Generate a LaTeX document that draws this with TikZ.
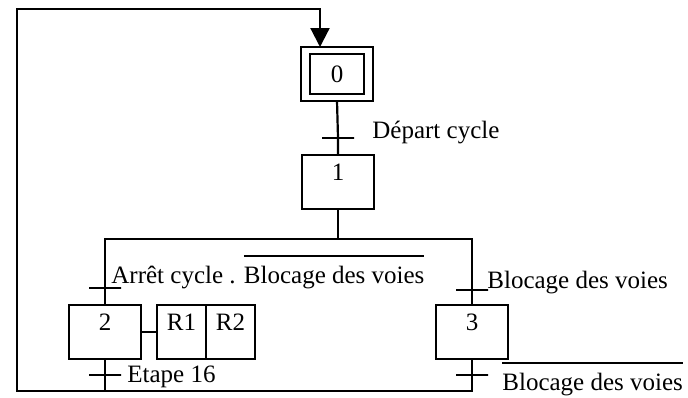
\documentclass[tikz,border=0pt]{standalone}
\usepackage{fontspec}
\setmainfont{Liberation Serif}
\usetikzlibrary{arrows.meta,positioning,calc}
\newsavebox{\barbox}
\newcommand{\nonbar}[1]{\sbox{\barbox}{#1}\rlap{\raisebox{13pt}{\rule{\wd\barbox}{1pt}}}\usebox{\barbox}}
\tikzset{
  gr/.style={draw, line width=1.1pt, outer sep=0pt, font=\fontsize{12.5}{15}\selectfont, inner sep=0pt},
  stepbox/.style={gr, minimum width=36pt, minimum height=27pt,
                  text height=8.5pt, text depth=10pt},
  initin/.style={gr, minimum width=27pt, minimum height=20pt},
  actbox/.style={stepbox, minimum width=24.5pt},
  trans/.style={draw, line width=1.3pt, minimum width=16pt, minimum height=0pt, inner sep=0pt, outer sep=0pt},
  lbl/.style={font=\fontsize{12.5}{15}\selectfont, inner sep=0pt, anchor=base west},
  ln/.style={line width=1.1pt},
  ar/.style={ln, -{Triangle[length=9.5pt, width=9.5pt]}},
}
\begin{document}
\begin{tikzpicture}[x=0.5pt, y=-0.5pt]
  \useasboundingbox (0,0) rectangle (688,397);
  % steps
  \node[stepbox] (s0) at (337,74) {};
  \node[initin] (s0in) at (s0.center) {0};
  \node[stepbox] (s1) at (338,182) {1};
  \node[stepbox] (s2) at (105,332) {2};
  \node[actbox, right=8pt of s2] (r1) {R1};
  \node[actbox, right=0pt of r1] (r2) {R2};
  \node[stepbox] (s3) at (472,332) {3};
  % transitions
  \node[trans] (t01) at (338,138) {};
  \node[trans] (t2) at (105,288) {};
  \node[trans] (t3) at (472,290) {};
  \node[trans] (t20) at (105,375) {};
  \node[trans] (t30) at (472,375) {};
  \coordinate (dl) at (105,239);
  \coordinate (dr) at (472,239);
  \coordinate (bl) at (17,391);
  \coordinate (tl) at (17,9);
  % receptivities
  \node[lbl] (l01) at ([xshift=17pt]t01.center) {Départ cycle};
  \node[lbl] (l2) at ([xshift=3pt, yshift=2.5pt]t2.center) {Arrêt cycle . \nonbar{Blocage des voies}};
  \node[lbl] (l3) at ([xshift=7.5pt, yshift=1pt]t3.center) {Blocage des voies};
  \node[lbl] (l20) at ([xshift=11pt, yshift=-3.5pt]t20.center) {Etape 16};
  \node[lbl] (l30) at ([xshift=15pt, yshift=-7.5pt]t30.center) {\nonbar{Blocage des voies}};
  % links
  \draw[ln] (s0.south) -- (t01.center) -- (s1.north);
  \draw[ln] (s1.south) -- (s1.south |- dl);
  \draw[ln] (s2.north) -- (t2.center) |- (dr) -- (t3.center) -- (s3.north);
  \draw[ln] (s2.east) -- (r1.west);
  \draw[ln] (s2.south) -- (t20.center) -- (t20.center |- bl);
  \draw[ar] (s3.south) -- (t30.center) |- (bl) -- (tl) -| ([xshift=-8.5pt]s0.north);
\end{tikzpicture}
\end{document}
